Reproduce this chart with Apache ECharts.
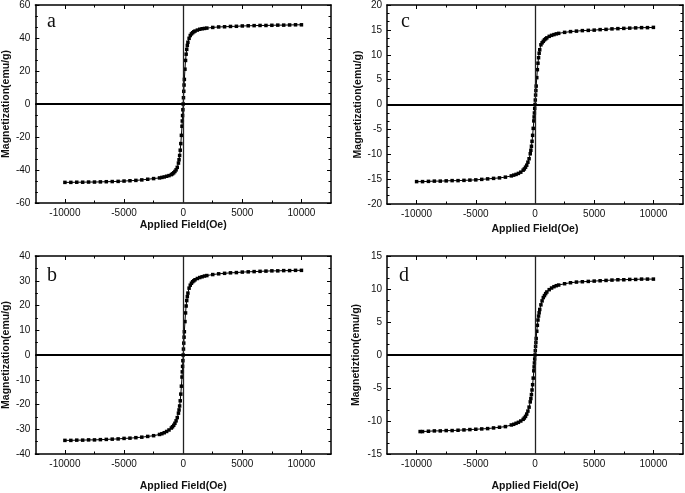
<!DOCTYPE html>
<html><head><meta charset="utf-8">
<script src="https://cdn.jsdelivr.net/npm/echarts@6/dist/echarts.min.js"></script>
<style>html,body{margin:0;padding:0;background:#fff}#c{width:685px;height:493px}</style>
</head><body><div id="c"></div>
<script>
// ---- data ----
const field = [-10000,-9500,-9000,-8500,-8000,-7500,-7000,-6500,-6000,-5500,-5000,-4500,-4000,-3500,-3000,-2500,-2000,-1800,-1600,-1400,-1200,-1000,-900,-800,-700,-600,-500,-400,-350,-300,-250,-200,-150,-100,-75,-50,-25,0,25,50,75,100,150,200,250,300,350,400,500,600,700,800,900,1000,1200,1400,1600,1800,2000,2500,3000,3500,4000,4500,5000,5500,6000,6500,7000,7500,8000,8500,9000,9500,10000];
const fieldD = [-9700,-9500,-9000,-8500,-8000,-7500,-7000,-6500,-6000,-5500,-5000,-4500,-4000,-3500,-3000,-2500,-2000,-1800,-1600,-1400,-1200,-1000,-900,-800,-700,-600,-500,-400,-350,-300,-250,-200,-150,-100,-75,-50,-25,0,25,50,75,100,150,200,250,300,350,400,500,600,700,800,900,1000,1200,1400,1600,1800,2000,2500,3000,3500,4000,4500,5000,5500,6000,6500,7000,7500,8000,8500,9000,9500,10000];
const magA = [-47.5,-47.5,-47.4,-47.4,-47.3,-47.3,-47.2,-47.1,-47.0,-46.9,-46.7,-46.5,-46.3,-46.0,-45.6,-45.2,-44.8,-44.5,-44.2,-43.8,-43.4,-42.8,-42.3,-41.7,-40.9,-39.9,-38.4,-35.8,-33.8,-31.2,-28.0,-24.0,-19.0,-13.5,-10.3,-7.0,-3.5,0,3.8,7.7,11.5,14.9,21.1,26.4,30.2,33.1,35.5,37.4,39.8,41.5,42.5,43.2,43.8,44.2,44.8,45.3,45.6,45.8,46.0,46.4,46.7,46.8,47.0,47.1,47.3,47.4,47.5,47.6,47.6,47.7,47.8,47.8,47.9,48.0,48.0];
const magB = [-34.5,-34.5,-34.4,-34.4,-34.3,-34.3,-34.2,-34.1,-34.0,-33.9,-33.7,-33.6,-33.4,-33.2,-32.9,-32.6,-32.1,-31.8,-31.4,-30.9,-30.3,-29.5,-29.0,-28.4,-27.6,-26.6,-25.3,-23.5,-22.2,-20.6,-18.5,-15.8,-12.6,-8.9,-6.8,-4.6,-2.3,0,2.4,4.8,7.2,9.4,13.5,17.0,19.8,22.0,23.6,25.0,27.0,28.2,29.0,29.6,30.0,30.4,30.9,31.3,31.6,31.9,32.1,32.5,32.8,33.0,33.2,33.3,33.5,33.6,33.7,33.8,33.9,34.0,34.0,34.1,34.1,34.2,34.2];
const magC = [-15.5,-15.5,-15.45,-15.4,-15.4,-15.35,-15.3,-15.3,-15.25,-15.2,-15.15,-15.05,-14.95,-14.85,-14.75,-14.6,-14.35,-14.2,-14.05,-13.85,-13.6,-13.2,-12.95,-12.6,-12.2,-11.6,-10.9,-9.9,-9.2,-8.4,-7.4,-6.2,-4.8,-3.3,-2.5,-1.7,-0.8,0,0.9,1.9,2.8,3.7,5.4,7.0,8.3,9.4,10.3,11.0,12.0,12.4,12.7,13.0,13.2,13.4,13.7,13.9,14.05,14.2,14.3,14.5,14.65,14.75,14.85,14.9,14.95,15.05,15.1,15.2,15.25,15.3,15.35,15.4,15.45,15.45,15.5];
const magD = [-11.6,-11.6,-11.55,-11.5,-11.5,-11.45,-11.45,-11.4,-11.35,-11.3,-11.25,-11.2,-11.15,-11.05,-10.95,-10.85,-10.6,-10.5,-10.35,-10.2,-10.0,-9.75,-9.55,-9.3,-8.95,-8.5,-7.9,-7.1,-6.6,-6.0,-5.3,-4.5,-3.5,-2.4,-1.8,-1.2,-0.6,0,0.65,1.3,1.9,2.5,3.6,4.5,5.3,5.9,6.4,6.9,7.6,8.2,8.7,9.0,9.3,9.55,9.9,10.15,10.35,10.5,10.6,10.8,10.95,11.05,11.1,11.15,11.2,11.25,11.3,11.35,11.4,11.4,11.45,11.45,11.5,11.5,11.5];
const xRange = [-12500, 12500];
const xTicks = [-10000, -5000, 0, 5000, 10000];
const xMinorTicks = [-7500, -2500, 2500, 7500];
const yAxisA = [-60, 60, 20];
const yAxisB = [-40, 40, 10];
const yAxisC = [-20, 20, 5];
const yAxisD = [-15, 15, 5];
const xTitle = 'Applied Field(Oe)';
const yTitle = 'Magnetization(emu/g)';
const yTitleD = 'Magnetiztion(emu/g)';

// ---- layout / style ----
const FONT = '"Liberation Sans", Arial, sans-serif';
const SERIF = '"Liberation Serif", "Times New Roman", serif';
const panels = [
  {label:'a', field:field,  mag:magA, y:yAxisA, ySplit:3, yName:yTitle,  grid:{left:35, top:4,   width:296, height:199}, xGap:17, yGap:21, lx:47, ly:22},
  {label:'c', field:field,  mag:magC, y:yAxisC, ySplit:3, yName:yTitle,  grid:{left:387,top:4,   width:296, height:200}, xGap:20, yGap:23, lx:401, ly:22},
  {label:'b', field:field,  mag:magB, y:yAxisB, ySplit:2, yName:yTitle,  grid:{left:35, top:256, width:296, height:199}, xGap:27, yGap:21, lx:47, ly:276},
  {label:'d', field:fieldD, mag:magD, y:yAxisD, ySplit:3, yName:yTitleD, grid:{left:387,top:256, width:296, height:199}, xGap:27, yGap:25, lx:399, ly:276}
];

const option = {animation:false, backgroundColor:'#fff', grid:[], xAxis:[], yAxis:[], series:[], graphic:[]};
const frameLine = {show:true, onZero:false, lineStyle:{color:'#000', width:1.5}};
const tickStyle = {color:'#000', width:1};
const labelStyle = {fontSize:10, color:'#111', fontFamily:FONT, formatter:(v) => String(v)};
const nameStyle = {fontSize:10.5, fontWeight:'bold', color:'#111', fontFamily:FONT};

panels.forEach((p, i) => {
  option.grid.push(Object.assign({containLabel:false}, p.grid));
  const xb = {gridIndex:i, type:'value', min:xRange[0], max:xRange[1], splitLine:{show:false}, minorSplitLine:{show:false}};
  option.xAxis.push(Object.assign({}, xb, {
    position:'bottom', axisLine:frameLine,
    axisTick:{show:true, inside:true, length:4, customValues:xTicks, lineStyle:tickStyle},
    axisLabel:Object.assign({customValues:xTicks, margin:5}, labelStyle),
    name:xTitle, nameLocation:'middle', nameGap:p.xGap, nameTextStyle:nameStyle
  }));
  option.xAxis.push(Object.assign({}, xb, {
    position:'bottom', axisLine:{show:false, onZero:false},
    axisTick:{show:true, inside:true, length:2.5, customValues:xMinorTicks, lineStyle:tickStyle},
    axisLabel:{show:false}
  }));
  option.xAxis.push(Object.assign({}, xb, {
    position:'top', axisLine:frameLine,
    axisTick:{show:true, inside:true, length:4, customValues:xTicks, lineStyle:tickStyle},
    axisLabel:{show:false}
  }));
  option.xAxis.push(Object.assign({}, xb, {
    position:'top', axisLine:{show:false, onZero:false},
    axisTick:{show:true, inside:true, length:2.5, customValues:xMinorTicks, lineStyle:tickStyle},
    axisLabel:{show:false}
  }));
  const yb = {gridIndex:i, type:'value', min:p.y[0], max:p.y[1], interval:p.y[2], splitLine:{show:false}, minorSplitLine:{show:false},
    axisLine:frameLine,
    axisTick:{show:true, inside:true, length:4, lineStyle:tickStyle},
    minorTick:{show:true, splitNumber:p.ySplit, length:2.5, lineStyle:tickStyle}};
  option.yAxis.push(Object.assign({}, yb, {
    position:'left', axisLabel:Object.assign({margin:5}, labelStyle),
    name:p.yName, nameLocation:'middle', nameGap:p.yGap, nameTextStyle:nameStyle
  }));
  option.yAxis.push(Object.assign({}, yb, {position:'right', axisLabel:{show:false}}));

  option.series.push({
    type:'line', xAxisIndex:4*i, yAxisIndex:2*i,
    data:p.field.map((h, k) => [h, p.mag[k]]),
    symbol:'rect', symbolSize:3.5, showSymbol:true,
    itemStyle:{color:'#000'}, lineStyle:{color:'#000', width:1},
    markLine:{silent:true, symbol:['none','none'], label:{show:false}, animation:false,
      data:[
        {xAxis:0, lineStyle:{color:'#222', width:1.3, type:'solid'}},
        {yAxis:0, lineStyle:{color:'#000', width:2, type:'solid'}}
      ]},
    z:3
  });
  option.graphic.push({type:'text', x:p.lx, y:p.ly,
    style:{text:p.label, font:'20px ' + SERIF, fill:'#111', verticalAlign:'middle', align:'left'}});
});

const chart = echarts.init(document.getElementById('c'), null, {renderer:'canvas'});
chart.setOption(option);
</script>
</body></html>
